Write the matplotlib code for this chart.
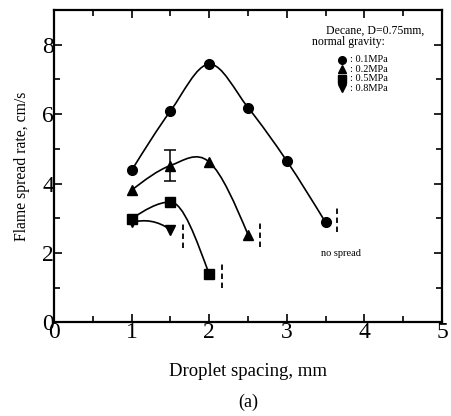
import matplotlib
matplotlib.use("Agg")
import matplotlib.pyplot as plt
import numpy as np
from matplotlib.path import Path
from matplotlib.patches import PathPatch

plt.rcParams['font.family'] = ['Liberation Serif', 'DejaVu Serif']

# data
spacing_01 = [1.0, 1.5, 2.0, 2.5, 3.0, 3.5]
rate_01 = [4.38, 6.09, 7.44, 6.19, 4.65, 2.88]
spacing_02 = [1.0, 1.5, 2.0, 2.5]
rate_02 = [3.81, 4.52, 4.62, 2.53]
err_02 = [0.0, 0.45, 0.0, 0.0]
spacing_05 = [1.0, 1.5, 2.0]
rate_05 = [2.99, 3.47, 1.39]
spacing_08 = [1.0, 1.5]
rate_08 = [2.88, 2.67]
# limits where no spread occurs (dashed marks)
limit_x = [3.65, 2.66, 2.17, 1.66]
limit_lo = [2.6, 2.18, 1.0, 2.15]
limit_hi = [3.3, 2.88, 1.72, 2.87]

labels = [': 0.1MPa', ': 0.2MPa', ': 0.5MPa', ': 0.8MPa']
markers = ['o', '^', 's', 'v']
# slopes forced at some points of the hand-drawn looking curves
slopes = [{}, {}, {1: 0.0, 2: -6.0}, {0: 0.6, 1: -1.6}]


def smooth_path(xs, ys, fixed):
    # Catmull-Rom through the points, drawn as cubic bezier segments
    pts = np.column_stack([xs, ys]).astype(float)
    n = len(pts)
    tang = []
    for i in range(n):
        if i in fixed:
            tang.append(np.array([0.5, 0.5 * fixed[i]]))
        elif 0 < i < n - 1:
            tang.append((pts[i + 1] - pts[i - 1]) / 2)
        else:
            tang.append(None)
    for i in (0, n - 1):
        if tang[i] is None:
            j = 1 if i == 0 else n - 2
            d = pts[1] - pts[0] if i == 0 else pts[-1] - pts[-2]
            tang[i] = (3 * d - tang[j]) / 2 if tang[j] is not None else d
    verts = [pts[0]]
    codes = [Path.MOVETO]
    for i in range(n - 1):
        verts += [pts[i] + tang[i] / 3, pts[i + 1] - tang[i + 1] / 3, pts[i + 1]]
        codes += [Path.CURVE4] * 3
    return Path(verts, codes)


fig = plt.figure(figsize=(4.52, 4.16), dpi=100)
ax = fig.add_axes([0.1195, 0.2248, 0.8585, 0.7512])

series = [(spacing_01, rate_01), (spacing_02, rate_02),
          (spacing_05, rate_05), (spacing_08, rate_08)]
for (xs, ys), m, fx in zip(series, markers, slopes):
    ax.add_patch(PathPatch(smooth_path(xs, ys, fx), facecolor='none',
                           edgecolor='black', lw=1.2))
    ax.plot(xs, ys, m, color='black', ms=7, ls='none')

ax.errorbar(spacing_02[1], rate_02[1], yerr=err_02[1], fmt='none',
            ecolor='black', elinewidth=1.1, capsize=4, capthick=1.1)

ax.vlines(limit_x, limit_lo, limit_hi, colors='black', linestyles=(0, (3, 2)),
          lw=1.3)
ax.text(3.44, 1.98, 'no spread', fontsize=7.5, va='center', ha='left')

# legend block
ax.text(3.51, 8.4, 'Decane, D=0.75mm,', fontsize=8.5, va='center')
ax.text(3.33, 8.08, 'normal gravity:', fontsize=8.5, va='center')
leg_y = [7.56, 7.29, 7.02, 6.75]
for m, lab, yy in zip(markers, labels, leg_y):
    ax.plot(3.71, yy, m, color='black', ms=5.5, ls='none')
    ax.text(3.81, yy, lab, fontsize=7.5, va='center')

ax.set_xlim(0, 5)
ax.set_ylim(0, 9)
ax.set_xticks([0, 1, 2, 3, 4, 5])
ax.set_xticks(np.arange(0.5, 5, 1.0), minor=True)
ax.set_yticks([0, 2, 4, 6, 8])
ax.set_yticks([1, 3, 5, 7], minor=True)
ax.tick_params(which='both', direction='in', top=True, right=True,
               labelsize=17, width=1.2)
ax.tick_params(which='major', length=6)
ax.tick_params(which='minor', length=4)
ax.tick_params(axis='x', pad=0)
ax.tick_params(axis='y', pad=0)
for s in ax.spines.values():
    s.set_linewidth(1.6)

ax.set_xlabel('Droplet spacing, mm', fontsize=13.5, labelpad=14)
ax.set_ylabel('Flame spread rate, cm/s', fontsize=11.3, labelpad=9)
fig.text(248 / 452, 1 - 402 / 416, '(a)', fontsize=13, ha='center', va='center')

fig.savefig('out.png', dpi=100, facecolor='white')
